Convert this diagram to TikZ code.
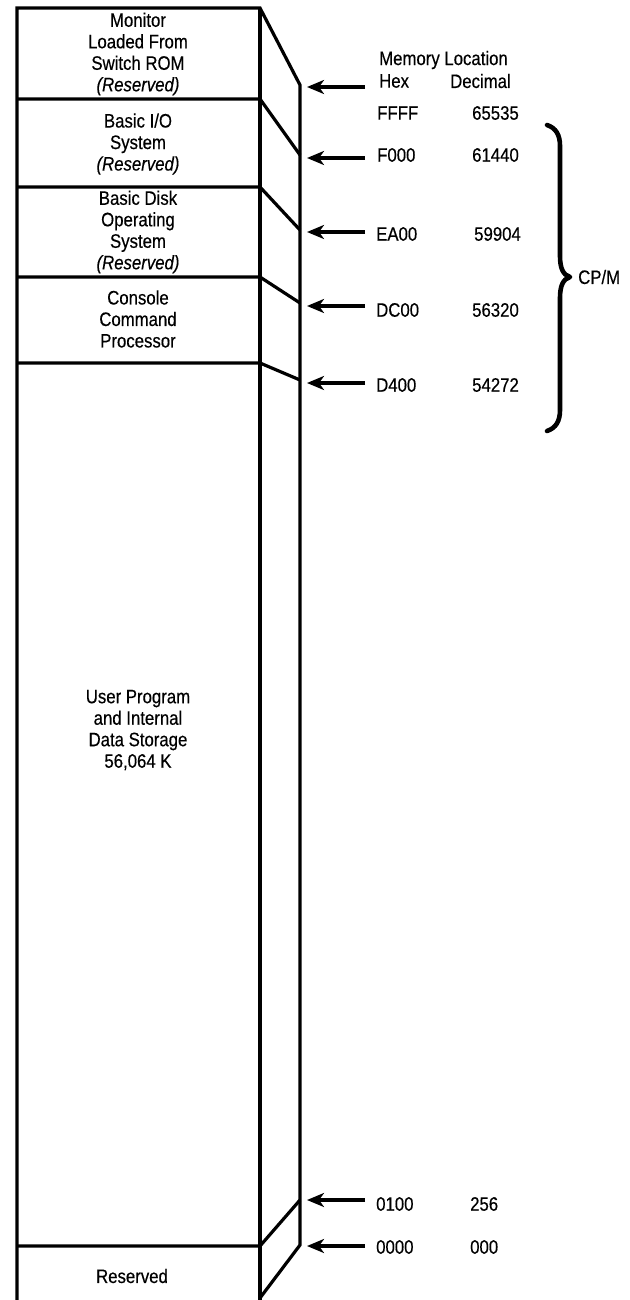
\documentclass[tikz,border=0pt]{standalone}
\usepackage{fontspec}
\setmainfont[FakeStretch=0.86,FakeBold=0.4]{Liberation Sans}
\usetikzlibrary{arrows.meta}
\begin{document}
\begin{tikzpicture}[x=1pt,y=-1pt,
  wall/.style={line width=3.2pt, line join=miter},
  txt/.style={font=\fontsize{19.5}{21.5}\selectfont, inner sep=0pt},
  lbl/.style={txt, align=center},
  num/.style={txt, anchor=west},
  arr/.style={line width=3.6pt, -{Stealth[length=17pt,width=14pt,inset=5pt]}},
  bracepath/.style={line width=4.6pt, line cap=round, line join=round}
  ]
\useasboundingbox (0,0) rectangle (629,1300);

% memory column
\draw[wall] (17,1300) -- (17,8) -- (260,8) -- (300,85) -- (300,1245) -- (260,1298);
\draw[wall] (260,8) -- (260,1300);
\draw[wall] (17,99) -- (260,99) -- (300,155);
\draw[wall] (17,187) -- (260,187) -- (300,230);
\draw[wall] (17,277) -- (260,277) -- (300,303);
\draw[wall] (17,363) -- (260,363) -- (300,380);
\draw[wall] (17,1246) -- (260,1246) -- (300,1200);

% region labels
\node[lbl] (monitor) at (138,54) {Monitor\\Loaded From\\Switch ROM\\\textit{(Reserved)}};
\node[lbl] (bios) at (138,144) {Basic I/O\\System\\\textit{(Reserved)}};
\node[lbl] (bdos) at (138,232) {Basic Disk\\Operating\\System\\\textit{(Reserved)}};
\node[lbl] (ccp) at (138,319) {Console\\Command\\Processor};
\node[lbl] (tpa) at (138,730) {User Program\\and Internal\\Data Storage\\56,064 K};
\node[lbl] (res) at (132,1276) {Reserved};

% headings
\node[num] (mem) at (379,60) {Memory Location};
\node[num] (hex) at (379,81) {Hex};
\node[num] (dec) at (450,81) {Decimal};

% addresses
\node[num] (h1) at (377,113) {FFFF};
\node[num] (d1) at (472,113) {65535};
\node[num] (h2) at (377,155) {F000};
\node[num] (d2) at (472,155) {61440};
\node[num] (h3) at (376,234) {EA00};
\node[num] (d3) at (474,234) {59904};
\node[num] (h4) at (376,310) {DC00};
\node[num] (d4) at (472,310) {56320};
\node[num] (h5) at (376,385) {D400};
\node[num] (d5) at (472,385) {54272};
\node[num] (h6) at (376,1204) {0100};
\node[num] (d6) at (470,1204) {256};
\node[num] (h7) at (376,1247) {0000};
\node[num] (d7) at (470,1247) {000};

% arrows
\foreach \i/\y in {0/87,2/158,3/232,4/306,5/383,6/1200,7/1246}{
  \coordinate (t\i) at (365,\y);
  \coordinate (a\i) at (307,\y);
  \draw[arr] (t\i) -- (a\i);
}

% CP/M brace
\draw[bracepath] (547,125) .. controls (556,128) and (560,135) .. (560,146)
  -- (560,256) .. controls (560,268) and (563,275) .. (570,277)
  .. controls (563,279) and (560,286) .. (560,298)
  -- (560,410) .. controls (560,421) and (556,428) .. (547,431);
\node[num] (cpm) at (578,277) {CP/M};
\end{tikzpicture}
\end{document}
